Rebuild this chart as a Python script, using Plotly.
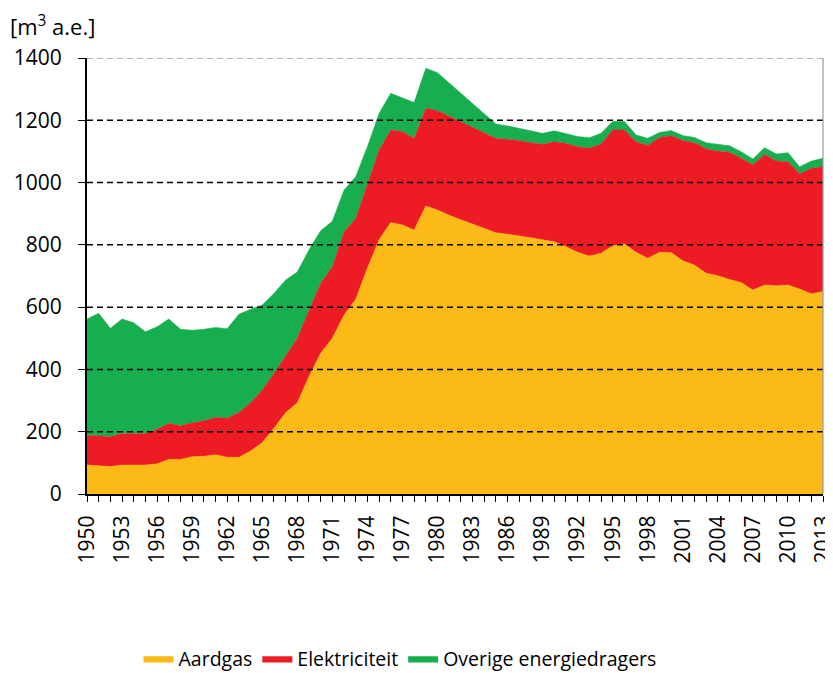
import plotly.graph_objects as go

years = list(range(1950, 2014))

top_aardgas = [93, 91, 88, 93, 93, 93, 97, 111, 111, 120, 121, 126, 118, 118, 138, 165,
               211, 261, 293, 377, 452, 500, 575, 625, 725, 816, 872, 864, 848, 925, 912,
               895, 881, 867, 853, 839, 834, 829, 823, 816, 810, 794, 776, 764, 773, 797,
               803, 776, 757, 776, 775, 749, 735, 709, 701, 689, 679, 655, 671, 669, 671,
               658, 643, 650]
top_elektr = [189, 186, 185, 194, 195, 194, 208, 227, 219, 229, 235, 246, 243, 262, 293, 334,
              387, 443, 500, 590, 677, 730, 842, 885, 998, 1105, 1169, 1164, 1142, 1239, 1231,
              1213, 1196, 1178, 1161, 1142, 1139, 1135, 1128, 1123, 1131, 1126, 1115, 1110, 1124, 1169,
              1169, 1131, 1119, 1145, 1150, 1135, 1128, 1108, 1101, 1097, 1078, 1057, 1091, 1069, 1067,
              1028, 1046, 1051]
top_totaal = [562, 580, 532, 562, 550, 521, 537, 562, 529, 526, 529, 535, 531, 577, 593, 607,
              644, 687, 713, 784, 845, 876, 976, 1019, 1115, 1222, 1287, 1271, 1257, 1367, 1353,
              1320, 1287, 1255, 1221, 1188, 1182, 1174, 1167, 1158, 1166, 1158, 1148, 1144, 1158, 1196,
              1196, 1153, 1142, 1161, 1167, 1151, 1145, 1128, 1123, 1118, 1099, 1076, 1112, 1092, 1096,
              1051, 1069, 1078]

aardgas = top_aardgas
elektriciteit = [e - a for e, a in zip(top_elektr, top_aardgas)]
overige = [t - e for t, e in zip(top_totaal, top_elektr)]

names = ["Aardgas", "Elektriciteit", "Overige energiedragers"]
colors = ["#FBBA16", "#ED1C24", "#16AE4E"]
series = [aardgas, elektriciteit, overige]

year_ticks = years[::3]
y_ticks = [0, 200, 400, 600, 800, 1000, 1200, 1400]

font = "Open Sans"

fig = go.Figure()
for name, vals, c in zip(names, series, colors):
    fig.add_trace(go.Scatter(x=years, y=vals, name=name, stackgroup="one",
                             mode="lines", line=dict(width=0.5, color=c),
                             fillcolor=c))

# gridlines drawn as shapes so the top one can be grey
for g in y_ticks[1:-1]:
    fig.add_shape(type="line", xref="paper", x0=0, x1=1, yref="y", y0=g, y1=g,
                  line=dict(color="black", width=1.5, dash="6px,4px"), layer="above")
fig.add_shape(type="line", xref="paper", x0=0, x1=1, yref="y", y0=y_ticks[-1], y1=y_ticks[-1],
              line=dict(color="#999999", width=1.5, dash="6px,4px"), layer="above")
fig.add_shape(type="line", xref="paper", x0=1, x1=1, yref="paper", y0=0, y1=1,
              line=dict(color="#999999", width=1.2), layer="above")

fig.add_annotation(text="[m<sup>3</sup> a.e.]", xref="paper", yref="paper",
                   x=-0.108, y=1.035, xanchor="left", yanchor="bottom", showarrow=False,
                   font=dict(size=22, color="black", family=font))

fig.update_xaxes(range=[years[0], years[-1]], tickmode="array", tickvals=year_ticks,
                 tickangle=-90, ticks="outside", ticklen=6, tickcolor="black",
                 ticklabelstandoff=5, automargin=False, ticklabeloverflow="allow",
                 showline=True, linecolor="black", linewidth=2, showgrid=False,
                 minor=dict(ticks="outside", dtick=1, tick0=years[0], ticklen=6,
                            tickcolor="black"),
                 tickfont=dict(size=21, color="black", family=font))
fig.update_yaxes(range=[y_ticks[0], y_ticks[-1]], tickmode="array", tickvals=y_ticks,
                 ticks="outside", ticklen=7, tickcolor="black",
                 ticklabelstandoff=12, automargin=False,
                 showline=True, linecolor="black", linewidth=2, showgrid=False,
                 zeroline=False,
                 tickfont=dict(size=21, color="black", family=font))

# the page adds an 8px body margin, so the figure is sized to fit inside it
fig.update_layout(
    width=825, height=665,
    margin=dict(l=79, r=10, t=50, b=179, autoexpand=False),
    plot_bgcolor="white", paper_bgcolor="white",
    font=dict(family=font, color="black"),
    showlegend=True,
    legend=dict(orientation="h", x=0.07, xanchor="left", y=-0.378, yanchor="middle",
                font=dict(size=19.5, color="black", family=font), traceorder="normal"),
)

fig.write_html("out.html")
